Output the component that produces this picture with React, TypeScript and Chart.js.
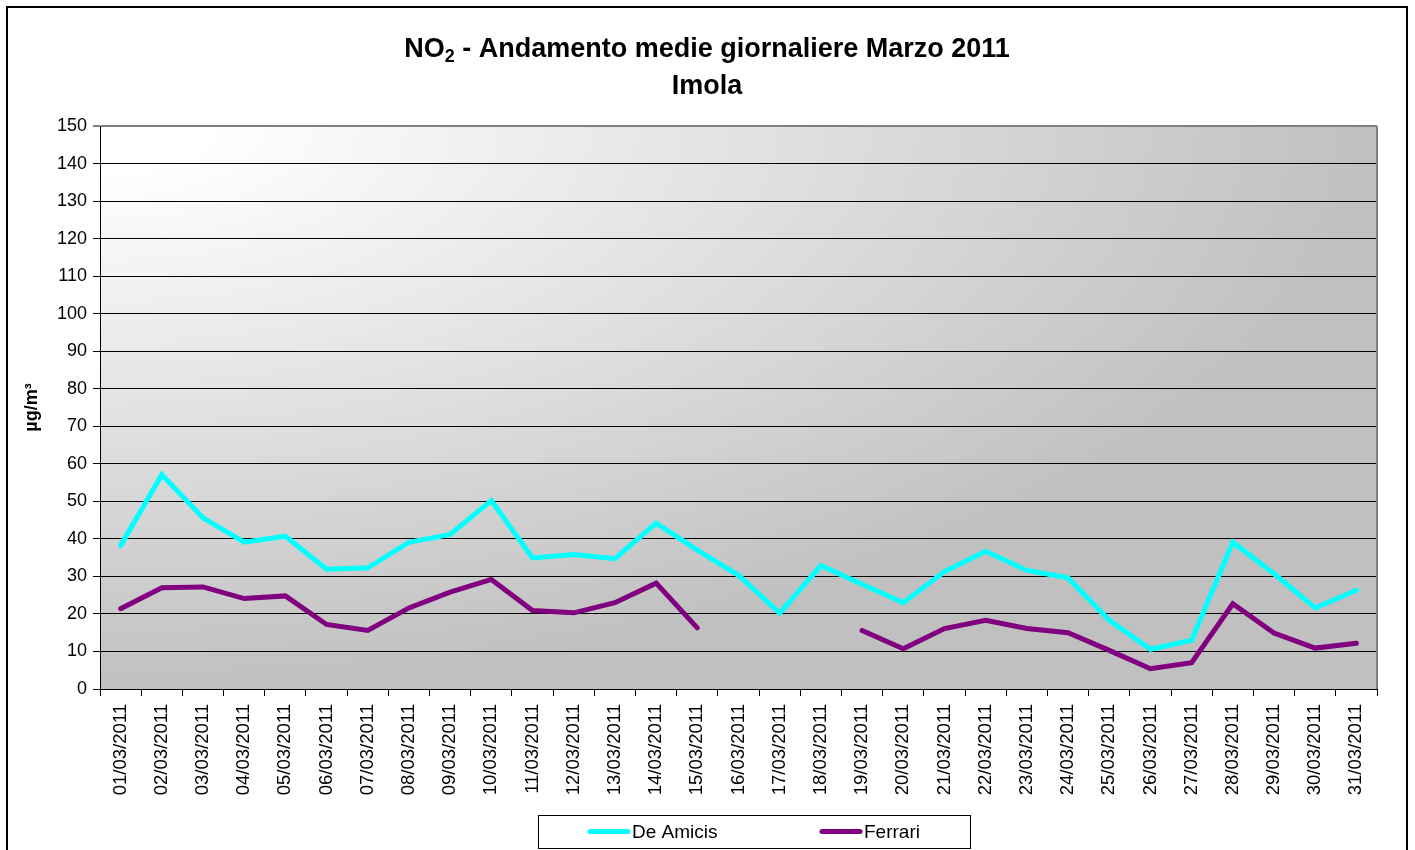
import React, { useEffect, useRef } from "react";
import { Chart, registerables } from "chart.js";

Chart.register(...registerables);

const FONT = "'Liberation Sans', Arial, Helvetica, sans-serif";

const titleLead = "NO";
const titleSub = "2";
const titleRest = " - Andamento medie giornaliere Marzo 2011";
const titleLine2 = "Imola";
const yAxisTitle = "µg/m³";

const days = [
  "01/03/2011", "02/03/2011", "03/03/2011", "04/03/2011", "05/03/2011", "06/03/2011",
  "07/03/2011", "08/03/2011", "09/03/2011", "10/03/2011", "11/03/2011", "12/03/2011",
  "13/03/2011", "14/03/2011", "15/03/2011", "16/03/2011", "17/03/2011", "18/03/2011",
  "19/03/2011", "20/03/2011", "21/03/2011", "22/03/2011", "23/03/2011", "24/03/2011",
  "25/03/2011", "26/03/2011", "27/03/2011", "28/03/2011", "29/03/2011", "30/03/2011",
  "31/03/2011",
];

const deAmicis = [
  38.2, 57.1, 45.6, 39.1, 40.7, 31.9, 32.3, 39.1, 41.2, 50.2, 34.9, 35.8, 34.7, 44.2, 37.0,
  30.3, 20.2, 32.9, 27.9, 23.0, 31.3, 36.7, 31.6, 29.6, 18.3, 10.6, 13.0, 39.1, 30.7, 21.6, 26.3,
];

const ferrari = [
  21.4, 27.0, 27.2, 24.1, 24.8, 17.2, 15.6, 21.6, 25.8, 29.2, 20.9, 20.3, 23.0, 28.2, 16.3,
  null, null, null, 15.6, 10.7, 16.1, 18.3, 16.1, 15.0, 10.3, 5.4, 7.0, 22.7, 14.9, 10.9, 12.2,
];

const seriesNames = ["De Amicis", "Ferrari"];
const seriesColors = ["#00FFFF", "#800080"];

const yMin = 0;
const yMax = 150;
const yStep = 10;

const chromePlugin = {
  id: "chrome",
  beforeDraw(chart: any) {
    const { ctx, width, height, chartArea: a } = chart;
    ctx.save();
    ctx.fillStyle = "#ffffff";
    ctx.fillRect(0, 0, width, height);
    // outer frame
    ctx.strokeStyle = "#000000";
    ctx.lineWidth = 2;
    ctx.strokeRect(7, 7, 1400, height + 40);
    // plot-area gradient (from top-left corner)
    const w = a.right - a.left;
    const h = a.bottom - a.top;
    ctx.translate(a.left, a.top);
    ctx.scale(w / h, 1);
    const g = ctx.createRadialGradient(0, 0, 0, 0, 0, h);
    g.addColorStop(0, "#ffffff");
    g.addColorStop(0.08, "#ffffff");
    g.addColorStop(1, "#c0c0c0");
    ctx.fillStyle = g;
    ctx.fillRect(0, 0, h, h);
    ctx.restore();
  },
  beforeDatasetsDraw(chart: any) {
    const { ctx, chartArea: a } = chart;
    ctx.save();
    ctx.strokeStyle = "#808080";
    ctx.lineWidth = 2;
    ctx.beginPath();
    ctx.moveTo(a.right, a.top);
    ctx.lineTo(a.right, a.bottom);
    ctx.stroke();
    ctx.restore();
  },
  afterDraw(chart: any) {
    const { ctx } = chart;
    ctx.save();
    // title
    ctx.fillStyle = "#000000";
    ctx.textBaseline = "alphabetic";
    ctx.textAlign = "left";
    const big = `bold 27px ${FONT}`;
    const small = `bold 18px ${FONT}`;
    ctx.font = big;
    const wLead = ctx.measureText(titleLead).width;
    const wRest = ctx.measureText(titleRest).width;
    ctx.font = small;
    const wSub = ctx.measureText(titleSub).width;
    const total = wLead + wSub + wRest;
    const cx = 707;
    let x = cx - total / 2;
    const base1 = 57;
    ctx.font = big;
    ctx.fillText(titleLead, x, base1);
    x += wLead;
    ctx.font = small;
    ctx.fillText(titleSub, x, base1 + 5);
    x += wSub;
    ctx.font = big;
    ctx.fillText(titleRest, x, base1);
    ctx.textAlign = "center";
    ctx.fillText(titleLine2, cx, 94);

    // legend
    const bx = 538, by = 815, bw = 432, bh = 33;
    ctx.fillStyle = "#ffffff";
    ctx.fillRect(bx, by, bw, bh);
    ctx.strokeStyle = "#000000";
    ctx.lineWidth = 1;
    ctx.strokeRect(bx + 0.5, by + 0.5, bw, bh);
    const starts = [588, 820];
    const ly = by + bh / 2;
    chart.data.datasets.forEach((ds: any, i: number) => {
      const sx = starts[i];
      ctx.strokeStyle = ds.borderColor;
      ctx.lineWidth = 5;
      ctx.lineCap = "round";
      ctx.beginPath();
      ctx.moveTo(sx + 2, ly);
      ctx.lineTo(sx + 40, ly);
      ctx.stroke();
      ctx.fillStyle = "#000000";
      ctx.font = `19px ${FONT}`;
      ctx.textAlign = "left";
      ctx.textBaseline = "middle";
      ctx.fillText(ds.label, sx + 44, ly + 1);
    });
    ctx.restore();
  },
};

export default function App() {
  const canvasRef = useRef<HTMLCanvasElement | null>(null);

  useEffect(() => {
    const canvas = canvasRef.current;
    if (!canvas) return;
    const chart = new Chart(canvas, {
      type: "line",
      data: {
        labels: days,
        datasets: [
          {
            label: seriesNames[0],
            data: deAmicis,
            borderColor: seriesColors[0],
            backgroundColor: seriesColors[0],
            borderWidth: 5,
            pointRadius: 0,
            tension: 0,
            borderCapStyle: "round",
            borderJoinStyle: "miter",
            spanGaps: false,
          },
          {
            label: seriesNames[1],
            data: ferrari,
            borderColor: seriesColors[1],
            backgroundColor: seriesColors[1],
            borderWidth: 5,
            pointRadius: 0,
            tension: 0,
            borderCapStyle: "round",
            borderJoinStyle: "miter",
            spanGaps: false,
          },
        ],
      },
      options: {
        responsive: false,
        animation: false,
        devicePixelRatio: 1,
        layout: { padding: { top: 126, right: 38, left: 0, bottom: 0 } },
        plugins: {
          legend: { display: false },
          title: { display: false },
          tooltip: { enabled: false },
        },
        scales: {
          x: {
            type: "category",
            offset: true,
            afterFit(scale: any) {
              scale.height = 161;
            },
            grid: {
              display: true,
              offset: true,
              drawOnChartArea: false,
              drawTicks: true,
              tickLength: 7,
              color: "#000000",
              lineWidth: 1,
            },
            border: { display: true, color: "#000000", width: 1 },
            ticks: {
              autoSkip: false,
              maxRotation: 90,
              minRotation: 90,
              padding: 8,
              color: "#000000",
              font: { family: FONT, size: 18.5 },
            },
          },
          y: {
            min: yMin,
            max: yMax,
            afterFit(scale: any) {
              scale.width = 100;
            },
            grid: {
              display: true,
              drawTicks: true,
              tickLength: 7,
              color: (c: any) => (c.tick && c.tick.value === yMax ? "#808080" : "#000000"),
              lineWidth: (c: any) => (c.tick && c.tick.value === yMax ? 2 : 1),
            },
            border: { display: true, color: "#000000", width: 1 },
            ticks: {
              stepSize: yStep,
              padding: 6,
              color: "#000000",
              font: { family: FONT, size: 18 },
            },
            title: {
              display: true,
              text: yAxisTitle,
              color: "#000000",
              font: { family: FONT, size: 18, weight: "bold" },
              padding: { top: 21, bottom: 0 },
            },
          },
        },
      },
      plugins: [chromePlugin],
    });
    return () => {
      chart.destroy();
    };
  }, []);

  return (
    <div
      style={{
        position: "fixed",
        left: 0,
        top: 0,
        width: 1415,
        height: 850,
        overflow: "hidden",
        background: "#ffffff",
      }}
    >
      <canvas ref={canvasRef} width={1415} height={850} style={{ display: "block" }} />
    </div>
  );
}
